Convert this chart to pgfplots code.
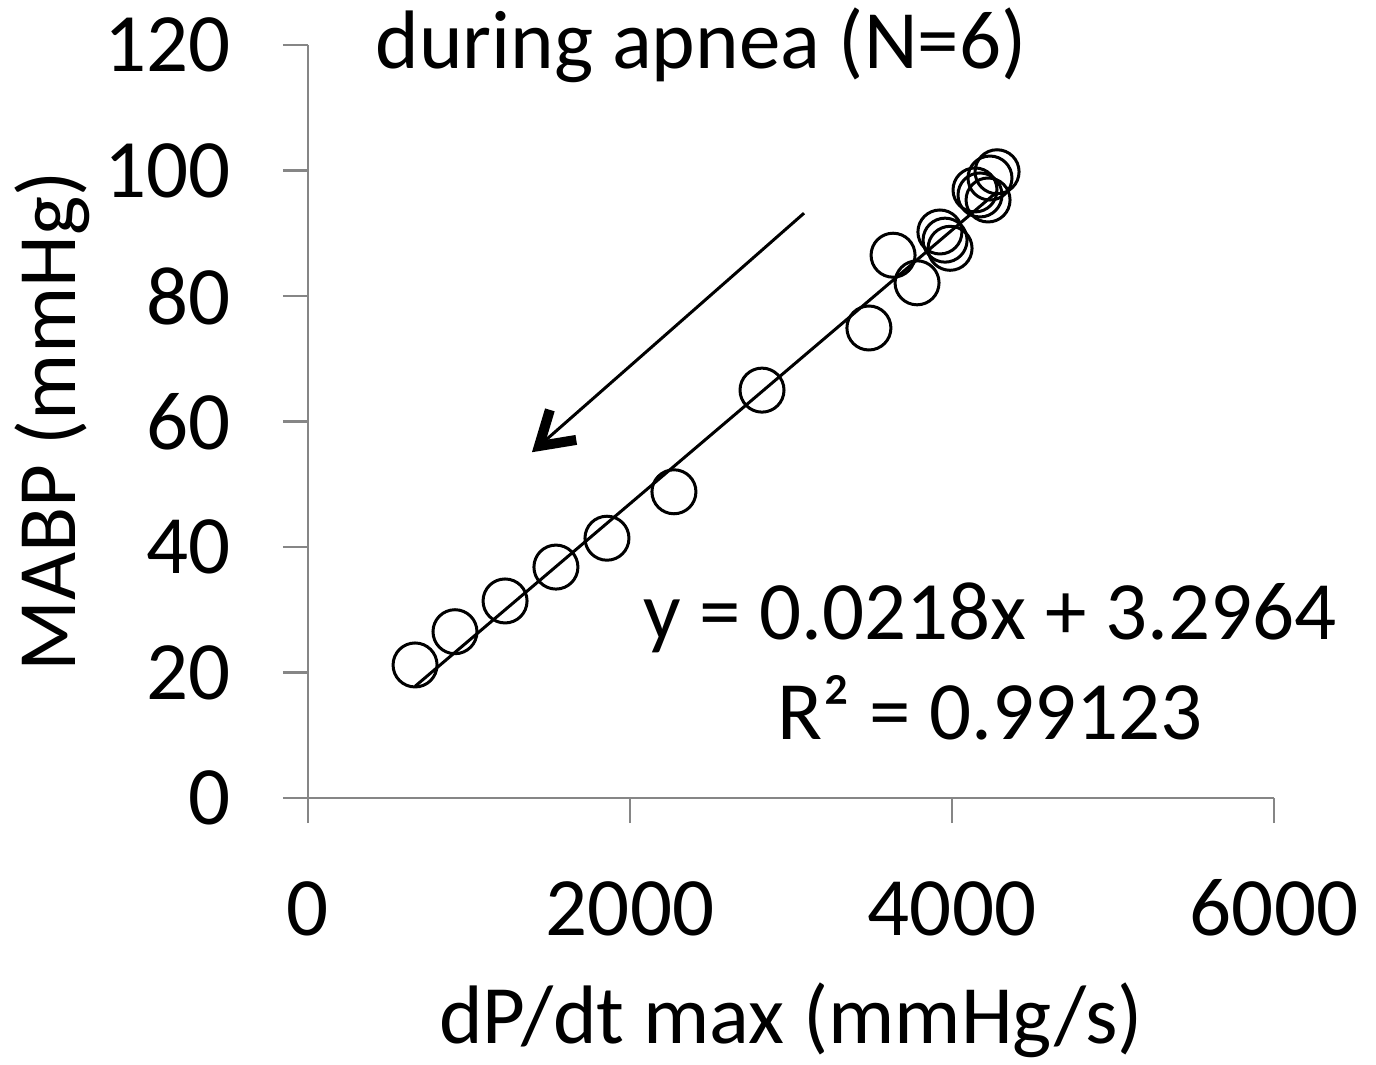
\documentclass[border=0pt]{standalone}
\usepackage{fontspec}
\setmainfont{Carlito}
\usepackage{pgfplots}
\pgfplotsset{compat=1.18}
\usetikzlibrary{arrows.meta}
\definecolor{axgray}{RGB}{134,134,134}

\begin{document}
\begin{tikzpicture}
\useasboundingbox (-154pt,-133.5pt) rectangle (534pt,399pt);
\begin{axis}[
    at={(0,0)}, anchor=origin,
    scale only axis,
    width=483pt, height=376.5pt,
    xmin=0, xmax=6000, ymin=0, ymax=120,
    xtick={0,2000,4000,6000},
    ytick={0,20,40,60,80,100,120},
    axis lines=left,
    axis line style={-, axgray, line width=1.3pt},
    tick style={axgray, line width=1.3pt},
    tick align=outside,
    major tick length=12.5pt,
    /pgf/number format/assume math mode=true,
    /pgf/number format/1000 sep={},
    tick label style={font=\fontsize{41.5}{50}\selectfont},
    label style={font=\fontsize{41.5}{50}\selectfont},
    xticklabel style={anchor=base, yshift=-56pt},
    yticklabel shift=22.5pt,
    xlabel={dP/dt max (mmHg/s)},
    ylabel={MABP (mmHg)},
    xlabel style={at={(axis description cs:0.5,-0.295)}, anchor=center},
    ylabel style={at={(axis description cs:-0.265,0.5)}, anchor=center},
    clip=false,
]
% measured points
\addplot[only marks, mark=o, mark size=11pt, black, line width=1.5pt] coordinates {
    (665,21.2) (913,26.5) (1224,31.4) (1540,36.8) (1857,41.4) (2273,48.8)
    (2820,65.0) (3484,74.9) (3634,86.5) (3783,82.1)
    (3925,90.2) (3957,88.9) (3988,87.6)
    (4143,96.9) (4174,96.1) (4224,95.3) (4236,98.8) (4280,99.8)
};
% linear trendline
\addplot[black, line width=1.5pt] coordinates {(665,17.8) (4280,96.6)};
% direction arrow
\addplot[black, line width=1.5pt, -{Straight Barb[length=16pt,width=20pt,line width=5pt]}]
    coordinates {(3081,93.2) (1391,55.1)};
\node[font=\fontsize{41.5}{50}\selectfont] at (axis cs:2441,120) {during apnea (N=6)};
\node[font=\fontsize{41.5}{50}\selectfont, align=center] at (axis cs:4236,21.8)
    {y = 0.0218x + 3.2964\\R² = 0.99123};
\end{axis}
\end{tikzpicture}
\end{document}
